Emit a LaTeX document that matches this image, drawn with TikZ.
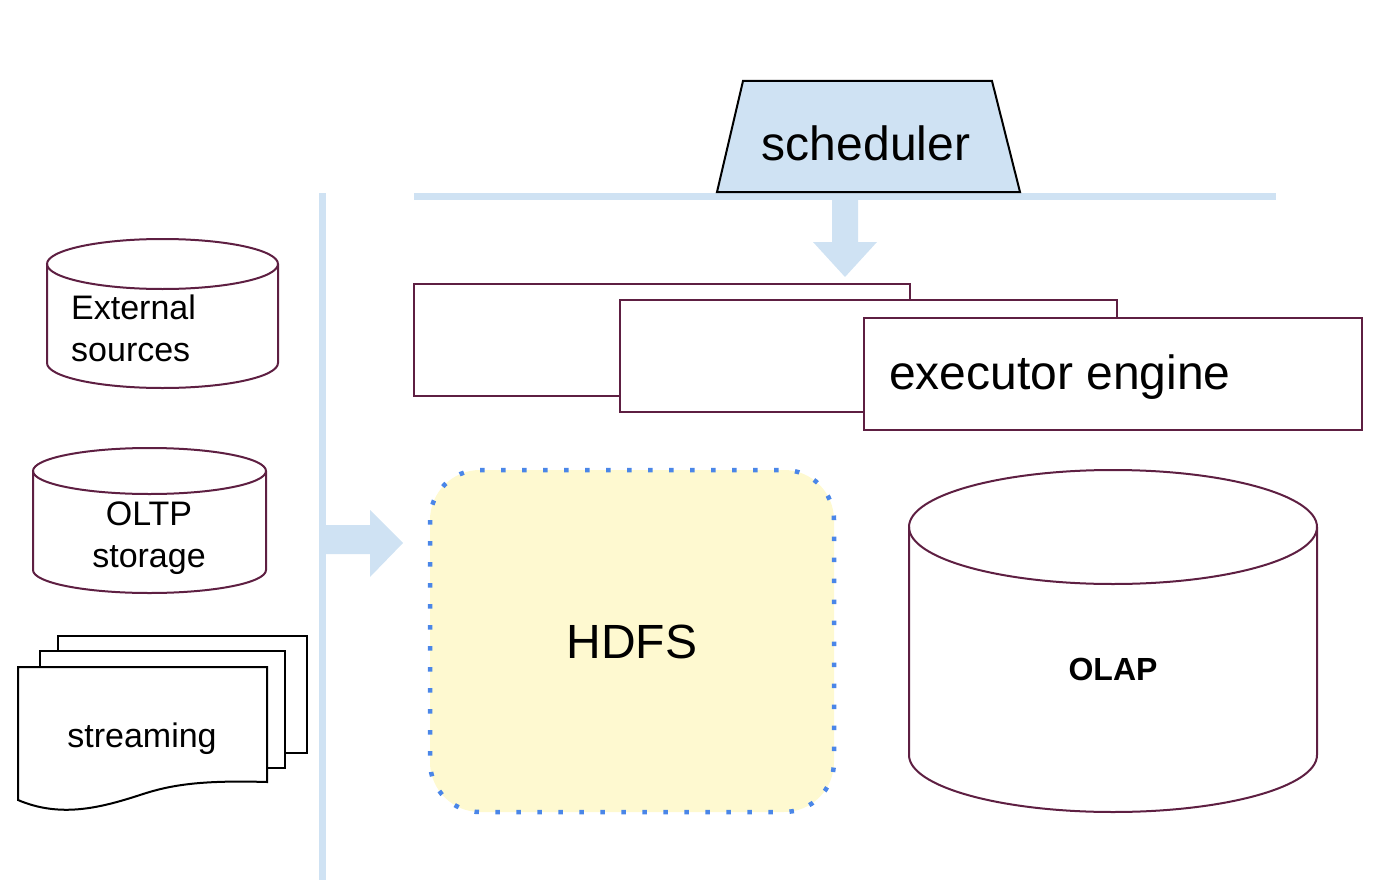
\documentclass[tikz,border=0pt]{standalone}
\usepackage{fontspec}
\setmainfont{Liberation Sans}
\definecolor{lblue}{HTML}{CFE2F3}
\definecolor{maroon}{HTML}{5E1F42}
\definecolor{hdfsfill}{HTML}{FEF9D0}
\definecolor{dotblue}{HTML}{4A86E8}
\begin{document}
\begin{tikzpicture}[x=1pt,y=-1pt,
  mline/.style={draw=maroon,line width=2pt},
  kline/.style={draw=black,line width=2pt},
  bar/.style={draw=lblue,line width=7pt},
  blockarrow/.style={fill=lblue,draw=none},
  bigtxt/.style={font=\fontsize{48}{56}\selectfont,inner sep=0pt},
  smalltxt/.style={font=\fontsize{34}{42}\selectfont,inner sep=0pt,align=center},
]
\useasboundingbox (0,0) rectangle (1400,880);
% bars
\draw[bar] (414,196) -- (1276,196);
\draw[bar] (322,193) -- (322,880);
% down arrow
\fill[blockarrow] (832,199) -- (858,199) -- (858,242) -- (877,242) -- (845,277) -- (813,242) -- (832,242) -- cycle;
% right arrow
\fill[blockarrow] (325,525) -- (370,525) -- (370,510) -- (403,543) -- (370,577) -- (370,554) -- (325,554) -- cycle;
% scheduler
\draw[kline,fill=lblue,line join=miter] (743,81) -- (992,81) -- (1020,192) -- (717,192) -- cycle;
\node[bigtxt] (sched) at (866,143) {scheduler};
% executor boxes
\draw[mline,fill=white] (414,284) rectangle (910,396);
\draw[mline,fill=white] (620,300) rectangle (1117,412);
\draw[mline,fill=white] (864,318) rectangle (1362,430);
\node[bigtxt,anchor=west] (exec) at (889,377) {executor engine};
% HDFS
\draw[fill=hdfsfill,draw=dotblue,line width=4.5pt,dash pattern=on 4.5pt off 16.5pt,rounded corners=50pt] (430,470) rectangle (834,812);
\node[bigtxt] (hdfs) at (632,642) {HDFS};
% OLAP cylinder
\draw[mline,fill=white] (909,527) -- (909,755) arc[start angle=180,end angle=0,x radius=204,y radius=57] -- (1317,527);
\draw[mline] (1113,527) ellipse[x radius=204,y radius=57];
\node[font=\fontsize{32}{38}\selectfont\bfseries,inner sep=0pt] (olap) at (1113,669) {OLAP};
% External sources cylinder
\draw[mline,fill=white] (47,264) -- (47,363) arc[start angle=180,end angle=0,x radius=115.5,y radius=25] -- (278,264);
\draw[mline] (162.5,264) ellipse[x radius=115.5,y radius=25];
\node[smalltxt,align=left,anchor=west] (ext) at (71,328) {External\\sources};
% OLTP storage cylinder
\draw[mline,fill=white] (33,471) -- (33,570) arc[start angle=180,end angle=0,x radius=116.5,y radius=23] -- (266,471);
\draw[mline] (149.5,471) ellipse[x radius=116.5,y radius=23];
\node[smalltxt] (oltp) at (149,538) {OLTP\\storage};
% streaming pages
\draw[kline,fill=white] (58,636) rectangle (307,753);
\draw[kline,fill=white] (40,651) rectangle (285,768);
\draw[kline,fill=white] (18,800) -- (18,667) -- (267,667) -- (267,782) .. controls (200,780) and (170,785) .. (140,795) .. controls (100,808) and (60,818) .. cycle;
\node[smalltxt] (stream) at (142,739) {streaming};
\end{tikzpicture}
\end{document}
